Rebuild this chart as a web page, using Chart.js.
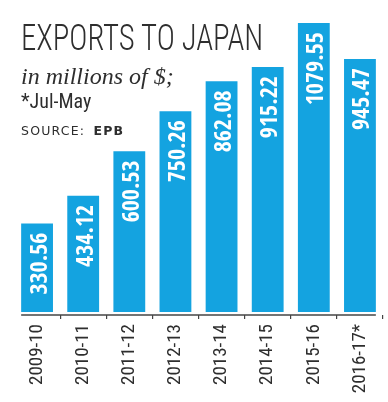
<!DOCTYPE html>
<html>
<head>
<meta charset="utf-8">
<script src="https://cdn.jsdelivr.net/npm/chart.js@4/dist/chart.umd.min.js"></script>
<style>
  html, body { margin: 0; padding: 0; background: #fff; }
  #wrap { position: relative; width: 388px; height: 402px; overflow: hidden; }
  #myChart { position: absolute; left: 0; top: 0; }
  .txt { position: absolute; left: 21px; color: #2e2e2e; white-space: nowrap; }
  #title { top: 19px; font-family: "Roboto Condensed"; font-weight: 300; font-size: 37px; line-height: 37px; transform: scaleX(0.83); transform-origin: 0 0; }
  #sub { top: 64px; font-family: "Liberation Serif", serif; font-style: italic; font-size: 24px; line-height: 24px; }
  #note { top: 91px; font-family: "Roboto Condensed"; font-size: 20px; line-height: 20px; }
  #source { top: 125px; font-family: "DejaVu Sans", sans-serif; font-size: 12.5px; line-height: 12.5px; letter-spacing: 1.2px; word-spacing: 3px; }
</style>
</head>
<body>
<div id="wrap">
  <canvas id="myChart" width="388" height="402"></canvas>
  <div class="txt" id="title">EXPORTS TO JAPAN</div>
  <div class="txt" id="sub">in millions of $;</div>
  <div class="txt" id="note">*Jul-May</div>
  <div class="txt" id="source">SOURCE: <b>EPB</b></div>
</div>
<script>
const years = ["2009-10", "2010-11", "2011-12", "2012-13", "2013-14", "2014-15", "2015-16", "2016-17*"];
const exports = [330.56, 434.12, 600.53, 750.26, 862.08, 915.22, 1079.55, 945.47];

const barColor = "#14a3e0";
const inkColor = "#2e2e2e";
const axisColor = "#444";

// white numbers written inside the top of each bar, plus the base line under the bars
const valueLabels = {
  id: "valueLabels",
  afterDatasetsDraw(chart) {
    const ctx = chart.ctx;
    const bars = chart.getDatasetMeta(0).data;
    ctx.save();
    ctx.fillStyle = "#fff";
    ctx.font = "bold 24px 'Open Sans Condensed'";
    ctx.textAlign = "right";
    ctx.textBaseline = "alphabetic";
    bars.forEach((bar, i) => {
      ctx.save();
      ctx.translate(bar.x + 9.5, bar.y + 9);
      ctx.rotate(-Math.PI / 2);
      ctx.fillText(exports[i].toFixed(2), 0, 0);
      ctx.restore();
    });

    const first = bars[0];
    const last = bars[bars.length - 1];
    const y = chart.chartArea.bottom;
    ctx.strokeStyle = axisColor;
    ctx.lineWidth = 1.5;
    ctx.beginPath();
    ctx.moveTo(first.x - first.width / 2, y);
    ctx.lineTo(last.x + last.width / 2, y);
    ctx.stroke();
    ctx.restore();
  },
};

const ctx = document.getElementById("myChart");
new Chart(ctx, {
  type: "bar",
  data: {
    labels: years,
    datasets: [
      {
        label: "exports",
        data: exports,
        backgroundColor: barColor,
        borderWidth: 0,
        categoryPercentage: 0.69,
        barPercentage: 1,
      },
    ],
  },
  options: {
    responsive: false,
    animation: false,
    layout: { padding: { left: 14, right: 4, top: 23, bottom: 0 } },
    plugins: { legend: { display: false }, tooltip: { enabled: false } },
    scales: {
      x: {
        offset: true,
        afterFit: (scale) => {
          scale.height = 87;
        },
        border: { display: false },
        grid: {
          offset: true,
          drawOnChartArea: false,
          tickLength: 4,
          color: (c) => (c.index === 0 || c.index === years.length ? "transparent" : axisColor),
          lineWidth: 1.2,
        },
        ticks: {
          minRotation: 90,
          maxRotation: 90,
          padding: 5,
          color: inkColor,
          font: { family: "'Roboto Condensed'", size: 19 },
        },
      },
      y: {
        display: false,
        min: -11,
        max: 1080,
      },
    },
  },
  plugins: [valueLabels],
});
</script>
</body>
</html>
